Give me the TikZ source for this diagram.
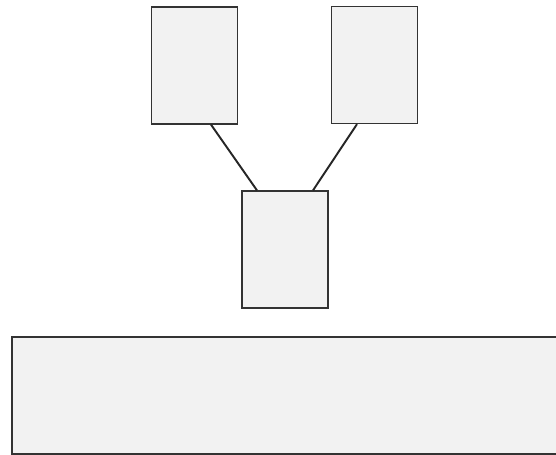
\documentclass[tikz,border=0pt]{standalone}
\begin{document}
\begin{tikzpicture}[
  card/.style={draw=black!80, fill=gray!10, rectangle, line width=0.7pt,
               minimum width=1.72cm, minimum height=2.34cm, inner sep=0pt},
  base/.style={draw=black!80, fill=gray!10, rectangle, line width=0.7pt,
               minimum width=11.2cm, minimum height=2.34cm, inner sep=0pt},
  link/.style={-, line width=1.1pt, black!85}
]
\useasboundingbox (0,0) rectangle (11.12,-9.1);
\node[card] (left) at (3.89,-1.31) {};
\node[card] (right) at (7.49,-1.30) {};
\node[card] (mid) at (5.70,-4.99) {};
\node[base] (floor) at (5.84,-7.91) {};

\draw[link] ([xshift=0.33cm]left.south) -- ([xshift=-0.56cm]mid.north);
\draw[link] ([xshift=-0.35cm]right.south) -- ([xshift=0.56cm]mid.north);
\end{tikzpicture}
\end{document}
